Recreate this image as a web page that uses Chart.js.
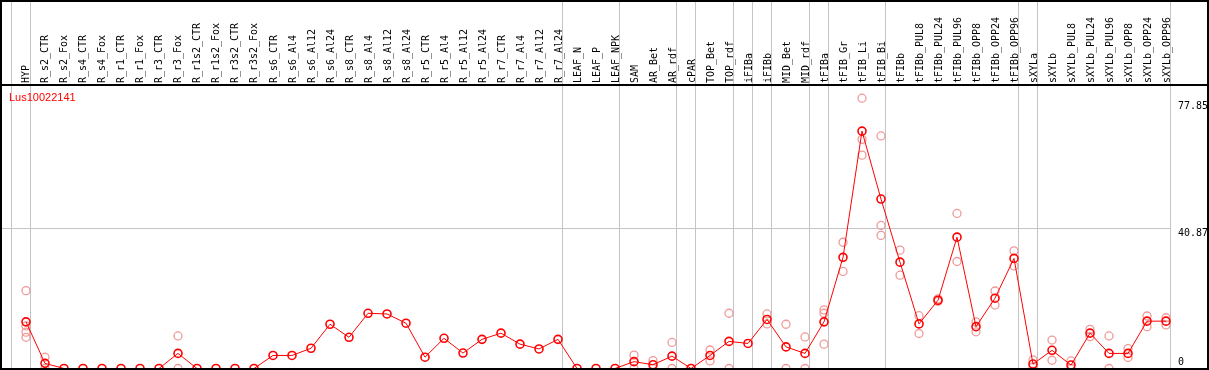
<!DOCTYPE html>
<html>
<head>
<meta charset="utf-8">
<script src="https://cdn.jsdelivr.net/npm/chart.js@4/dist/chart.umd.min.js"></script>
<style>
  html, body { margin: 0; padding: 0; background: #fff; }
  #wrap { width: 1209px; height: 370px; }
</style>
</head>
<body>
<div id="wrap"><canvas id="chart" width="1209" height="370"></canvas></div>
<script>
// Sample names (header)
const samples = [
    'HYP',
    'R_s2_CTR', 'R_s2_Fox', 'R_s4_CTR', 'R_s4_Fox', 'R_r1_CTR', 'R_r1_Fox', 'R_r3_CTR', 'R_r3_Fox',
    'R_r1s2_CTR', 'R_r1s2_Fox', 'R_r3s2_CTR', 'R_r3s2_Fox',
    'R_s6_CTR', 'R_s6_Al4', 'R_s6_Al12', 'R_s6_Al24', 'R_s8_CTR', 'R_s8_Al4', 'R_s8_Al12', 'R_s8_Al24',
    'R_r5_CTR', 'R_r5_Al4', 'R_r5_Al12', 'R_r5_Al24', 'R_r7_CTR', 'R_r7_Al4', 'R_r7_Al12', 'R_r7_Al24',
    'LEAF_N', 'LEAF_P', 'LEAF_NPK',
    'SAM', 'AR_Bet', 'AR_rdf', 'cPAR', 'TOP_Bet', 'TOP_rdf', 'iFIBa', 'iFIBb', 'MID_Bet', 'MID_rdf',
    'tFIBa', 'tFIB_Gr', 'tFIB_Li', 'tFIB_Bi', 'tFIBb',
    'tFIBb_PUL8', 'tFIBb_PUL24', 'tFIBb_PUL96', 'tFIBb_OPP8', 'tFIBb_OPP24', 'tFIBb_OPP96',
    'sXYLa', 'sXYLb',
    'sXYLb_PUL8', 'sXYLb_PUL24', 'sXYLb_PUL96', 'sXYLb_OPP8', 'sXYLb_OPP24', 'sXYLb_OPP96'
];

// Mean expression per sample
const meanValues = [
    13.6,
    1.5, 0, 0, 0, 0, 0, 0, 4.4,
    0, 0, 0, 0,
    3.8, 3.8, 5.9, 12.9, 9.1, 16.1, 15.9, 13.2,
    3.3, 8.8, 4.5, 8.5, 10.3, 7.1, 5.7, 8.5,
    0, 0, 0,
    2.0, 1.1, 3.6, 0, 3.8, 7.9, 7.3, 14.3, 6.3, 4.4,
    13.6, 32.4, 69.2, 49.4, 31.0,
    13.0, 19.9, 38.3, 12.2, 20.5, 32.1,
    1.3, 5.3,
    1.0, 10.3, 4.4, 4.4, 13.8, 13.8
];

// Individual replicates: sample index + value
const repCols = [
    0, 0, 0, 0, 1, 1, 8, 8,
    32, 32, 33, 33, 34, 34, 36, 36, 37, 37, 39, 39, 40, 40, 41, 41,
    42, 42, 42, 43, 43, 44, 44, 44, 45, 45, 45, 46, 46,
    47, 47, 48, 48, 49, 49, 50, 50, 51, 51, 52, 52,
    53, 53, 54, 54, 55, 55, 56, 56, 57, 57, 58, 58, 59, 59, 60, 60
];
const repValues = [
    22.7, 12.4, 10.6, 9.1, 3.3, 0, 9.5, 0,
    3.9, 0, 2.3, 0, 7.6, 0, 5.4, 2.2, 16.1, 0, 15.9, 13.0, 12.9, 0, 9.2, 0,
    17.1, 16.1, 7.1, 36.8, 28.3, 78.8, 66.8, 62.2, 67.8, 41.7, 38.8, 34.5, 27.2,
    15.4, 10.2, 20.3, 19.6, 45.2, 31.2, 13.6, 10.7, 22.6, 18.5, 34.3, 29.9,
    2.5, 0.5, 8.3, 2.4, 2.2, 0, 11.4, 9.3, 9.5, 0, 5.8, 3.2, 15.3, 12.2, 14.8, 12.7
];

// Group separators (after these sample indexes) and right-hand tick labels
const groupEnds = [-1, 0, 28, 31, 34, 35, 37, 38, 39, 41, 42, 45, 52, 53, 60];
const yTicks = [0, 40.87, 77.85];
const geneName = 'Lus10022141';

const gridGray = '#c4c4c4';

// header labels, separators, frame and value labels
const decorPlugin = {
    id: 'decor',
    beforeDatasetsDraw(chart) {
        const ctx = chart.ctx;
        const xs = chart.scales.x;
        ctx.save();
        ctx.strokeStyle = gridGray;
        ctx.lineWidth = 1;
        groupEnds.forEach(g => {
            const x = Math.round(xs.getPixelForValue(g + 0.21)) + 0.5;
            ctx.beginPath();
            ctx.moveTo(x, 0);
            ctx.lineTo(x, 370);
            ctx.stroke();
        });
        ctx.restore();
    },
    afterDraw(chart) {
        const ctx = chart.ctx;
        const xs = chart.scales.x;
        const ys = chart.scales.y;
        ctx.save();

        // rotated sample names
        ctx.fillStyle = '#000';
        ctx.font = '11px "DejaVu Sans Mono"';
        ctx.textAlign = 'left';
        ctx.textBaseline = 'alphabetic';
        samples.forEach((s, i) => {
            ctx.save();
            ctx.translate(xs.getPixelForValue(i) + 3.5, 83);
            ctx.rotate(-Math.PI / 2);
            ctx.scale(0.906, 1);
            ctx.fillText(s, 0, 0);
            ctx.restore();
        });

        // right-hand value labels
        ctx.textBaseline = 'middle';
        yTicks.forEach(v => {
            const y = Math.min(ys.getPixelForValue(v) + 5, 362);
            ctx.save();
            ctx.translate(1178, y);
            ctx.scale(0.906, 1);
            ctx.fillText(String(v), 0, 0);
            ctx.restore();
        });

        // gene name
        ctx.fillStyle = '#ff0000';
        ctx.font = '11px "Liberation Sans"';
        ctx.textBaseline = 'alphabetic';
        ctx.fillText(geneName, 9, 101);

        // frame
        ctx.strokeStyle = '#000';
        ctx.lineWidth = 2;
        ctx.strokeRect(1, 1, 1207, 368);
        ctx.beginPath();
        ctx.moveTo(0, 85);
        ctx.lineTo(1209, 85);
        ctx.stroke();
        ctx.restore();
    }
};

new Chart(document.getElementById('chart'), {
    type: 'line',
    data: {
        datasets: [{
            label: 'mean',
            data: meanValues.map((v, i) => ({ x: i, y: v })),
            borderColor: '#ff0000',
            borderWidth: 1,
            backgroundColor: 'transparent',
            pointRadius: 4,
            pointBorderWidth: 1.6,
            pointBorderColor: '#ff0000',
            pointBackgroundColor: 'transparent',
            tension: 0,
            clip: false,
            order: 0
        }, {
            type: 'scatter',
            label: 'replicates',
            data: repCols.map((c, k) => ({ x: c, y: repValues[k] })),
            showLine: false,
            pointRadius: 4,
            pointBorderWidth: 1.3,
            pointBorderColor: '#ee9a9a',
            pointBackgroundColor: 'transparent',
            clip: false,
            order: 1
        }]
    },
    options: {
        responsive: false,
        devicePixelRatio: 1,
        animation: false,
        events: [],
        layout: { autoPadding: false, padding: { left: 2, right: 39, top: 85, bottom: 1.5 } },
        plugins: {
            legend: { display: false },
            tooltip: { enabled: false }
        },
        scales: {
            x: {
                type: 'linear',
                display: false,
                min: -1.263,
                max: 60.21
            },
            y: {
                type: 'linear',
                position: 'right',
                min: 0,
                max: 82.65,
                afterBuildTicks: scale => {
                    scale.ticks = yTicks.map(v => ({ value: v }));
                },
                ticks: { display: false },
                border: { display: false },
                grid: {
                    drawTicks: false,
                    lineWidth: 1,
                    color: c => (c.tick && c.tick.value === 40.87) ? gridGray : 'transparent'
                }
            }
        }
    },
    plugins: [decorPlugin]
});
</script>
</body>
</html>
